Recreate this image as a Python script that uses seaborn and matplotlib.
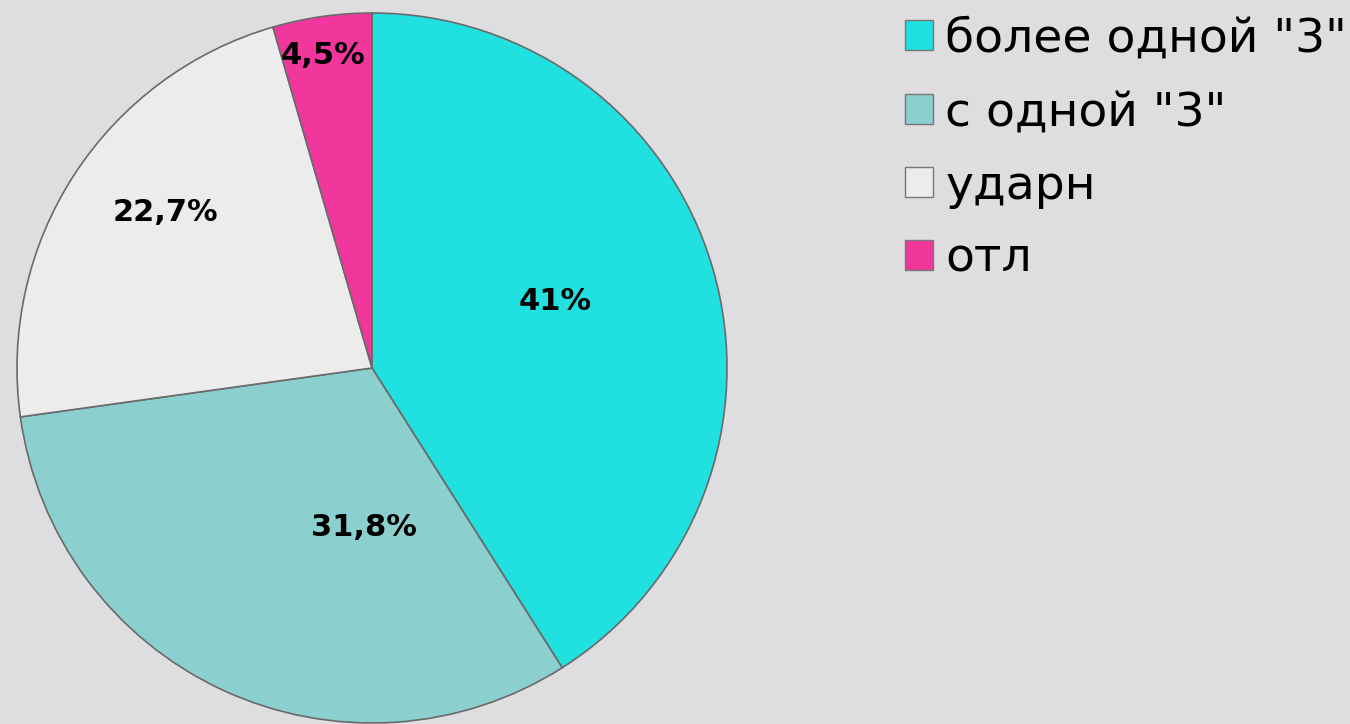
import matplotlib
matplotlib.use("Agg")
import matplotlib.pyplot as plt
from matplotlib.patches import Patch
import numpy as np
import seaborn as sns

categories = ['более одной "3"', 'с одной "3"', "ударн", "отл"]
shares = [41.0, 31.8, 22.7, 4.5]
pct_labels = ["41%", "31,8%", "22,7%", "4,5%"]
colors = ["#21e0e0", "#8bcfcf", "#ececec", "#f2379c"]

# label placement (fraction of radius, angle in degrees), as in the original
label_pos = [(0.55, 20.0), (0.45, -93.0), (0.73, 143.0), (0.89, 99.0)]

sns.set_theme(style="white")
plt.rcParams["font.family"] = ["DejaVu Sans"]

fig = plt.figure(figsize=(13.5, 7.24), dpi=100)
fig.patch.set_facecolor("#dedee0")

ax = fig.add_axes([17 / 1350, 1 / 724, 710 / 1350, 710 / 724])
ax.set_facecolor("none")
wedges, texts = ax.pie(
    shares,
    colors=colors,
    startangle=90,
    counterclock=False,
    radius=1.0,
    wedgeprops=dict(edgecolor="#6a6a6a", linewidth=1.2),
)
for w, lab, (r, a) in zip(wedges, pct_labels, label_pos):
    t = np.deg2rad(a)
    ax.text(r * np.cos(t), r * np.sin(t), lab, ha="center", va="center",
            fontsize=22, fontweight="bold", color="black")
ax.set_xlim(-1.0, 1.0)
ax.set_ylim(-1.0, 1.0)
ax.set_aspect("equal")
ax.axis("off")

handles = [Patch(facecolor=c, edgecolor="#777777", linewidth=1.0) for c in colors]
fig.legend(
    handles, categories,
    loc="upper left",
    bbox_to_anchor=(905 / 1350, 1 - 17 / 724),
    frameon=False,
    fontsize=34,
    labelcolor="black",
    handlelength=0.6,
    handleheight=0.6,
    handletextpad=0.25,
    labelspacing=0.6,
    borderpad=0,
    borderaxespad=0,
)

fig.savefig("out.png", dpi=100, facecolor=fig.get_facecolor())
